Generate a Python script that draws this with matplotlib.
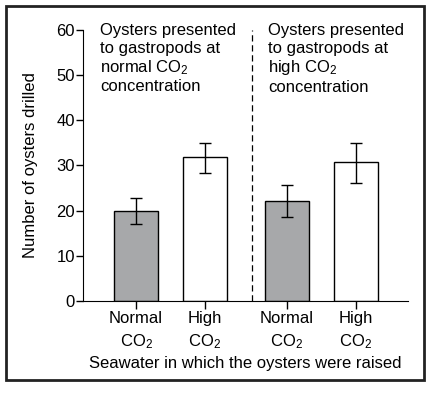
import numpy as np
import matplotlib.pyplot as plt
from matplotlib.patches import Rectangle

plt.rcParams['font.family'] = ['Liberation Sans', 'DejaVu Sans']
plt.rcParams['mathtext.default'] = 'regular'

# Data
labels = ['Normal\nCO$_2$', 'High\nCO$_2$', 'Normal\nCO$_2$', 'High\nCO$_2$']
values = [20.0, 31.8, 22.2, 30.7]
err_low = [17.1, 28.4, 18.6, 26.1]
err_high = [22.9, 35.0, 25.6, 35.0]
colors = ['#a7a8aa', 'white', '#a7a8aa', 'white']
group_titles = ['Oysters presented\nto gastropods at\nnormal CO$_2$\nconcentration',
                'Oysters presented\nto gastropods at\nhigh CO$_2$\nconcentration']

x = np.array([1, 2, 3.19, 4.19])
yerr = [np.array(values) - np.array(err_low), np.array(err_high) - np.array(values)]

fs = 12

fig = plt.figure(figsize=(4.42, 3.94), dpi=100)
ax = fig.add_axes([0.188, 0.236, 0.735, 0.688])

ax.bar(x, values, width=0.64, color=colors, edgecolor='black', linewidth=1.0)
ax.errorbar(x, values, yerr=yerr, fmt='none', ecolor='black', elinewidth=1.0,
            capsize=4.5, capthick=1.0)

# dashed divider between the two groups
ax.axvline(2.68, ymin=0, ymax=1, color='black', linestyle=(0, (5, 3)), linewidth=0.9)

ax.set_xlim(0.23, 4.95)
ax.set_ylim(0, 60)
ax.set_yticks([0, 10, 20, 30, 40, 50, 60])
ax.set_xticks(x)
ax.set_xticklabels(labels, fontsize=fs, linespacing=1.45)
ax.tick_params(axis='y', labelsize=fs, length=5, width=1, pad=1)
ax.tick_params(axis='x', length=6, width=1, pad=1)
ax.spines['top'].set_visible(False)
ax.spines['right'].set_visible(False)

ax.set_ylabel('Number of oysters drilled', fontsize=fs, labelpad=13)
ax.set_xlabel('Seawater in which the oysters were raised', fontsize=fs, labelpad=4)

ax.text(0.478, 1.025, group_titles[0], transform=ax.get_xaxis_transform(),
        ha='left', va='top', fontsize=fs, linespacing=1.2)
ax.text(2.913, 1.025, group_titles[1], transform=ax.get_xaxis_transform(),
        ha='left', va='top', fontsize=fs, linespacing=1.2)

# outer frame
fig.patches.append(Rectangle((6 / 442, 1 - 380 / 394), 418 / 442, 374 / 394,
                             transform=fig.transFigure, fill=False,
                             edgecolor='#222222', linewidth=2))

fig.savefig('out.png', dpi=100)
